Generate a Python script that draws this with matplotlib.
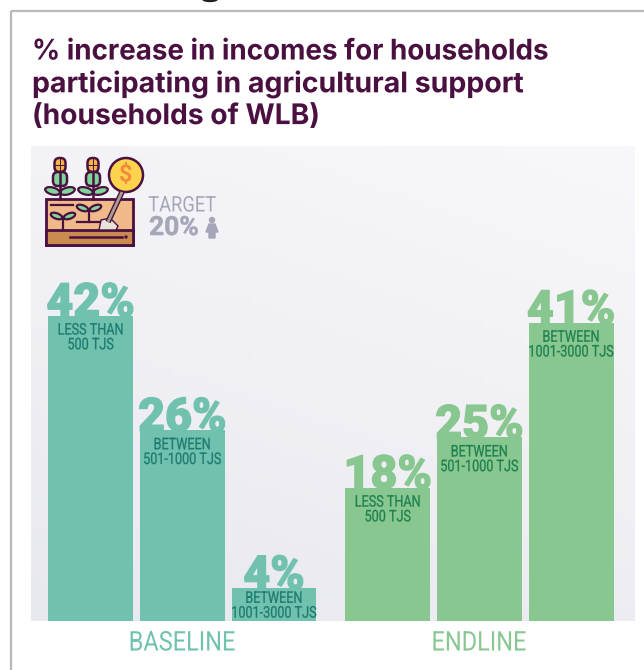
import numpy as np
import matplotlib
matplotlib.use('Agg')
import matplotlib.pyplot as plt
from matplotlib.colors import LinearSegmentedColormap
from matplotlib.patches import Rectangle, Circle, Ellipse, Polygon, FancyBboxPatch
from matplotlib.patheffects import AbstractPathEffect
from matplotlib.transforms import Affine2D

W, H = 644, 670

groups = ['BASELINE', 'ENDLINE']
baseline_values = [42, 26, 4]
endline_values = [18, 25, 41]
baseline_labels = ['LESS THAN\n500 TJS', 'BETWEEN\n501-1000 TJS', 'BETWEEN\n1001-3000 TJS']
endline_labels = ['LESS THAN\n500 TJS', 'BETWEEN\n501-1000 TJS', 'BETWEEN\n1001-3000 TJS']

title_lines = ['% increase in incomes for households',
               'participating in agricultural support',
               '(households of WLB)']
title_squeeze = [0.975, 1.0, 0.99]

PLUM = '#4a1040'
TEAL = '#70c2ae'
TEAL_DARK = '#1f7a70'
GREEN = '#88c78f'
GREEN_DARK = '#1f8050'
GREY = '#a5a6b8'

plt.rcParams['font.family'] = ['Inter', 'Roboto', 'DejaVu Sans']
ROBOTO = ['Roboto', 'DejaVu Sans']


class Squeeze(AbstractPathEffect):
    # scales glyphs horizontally around a fixed pixel x, there is no condensed font here
    def __init__(self, sx, cx, stroke=0.0):
        super().__init__()
        self.sx, self.cx, self.stroke = sx, cx, stroke

    def draw_path(self, renderer, gc, tpath, affine, rgbFace=None):
        squeezed = affine + Affine2D().translate(-self.cx, 0).scale(self.sx, 1).translate(self.cx, 0)
        gc0 = renderer.new_gc()
        gc0.copy_properties(gc)
        if self.stroke:
            gc0.set_linewidth(self.stroke)
            gc0.set_foreground(rgbFace)
        renderer.draw_path(gc0, tpath, squeezed, rgbFace)
        gc0.restore()


fig = plt.figure(figsize=(W / 100, H / 100), dpi=100, facecolor='white')

# chart panel with a soft diagonal gradient
ax = fig.add_axes([31 / W, 1 - 621 / H, 604 / W, 475 / H])
xlim = (0, 604 / 91.7)
ylim = (-0.6, 475 / 7.17 - 0.6)
gx, gy = np.meshgrid(np.linspace(0, 1, 60), np.linspace(0, 1, 60))
ax.imshow(gx * 0.3 + gy * 0.7, extent=[*xlim, *ylim], origin='lower', aspect='auto',
          cmap=LinearSegmentedColormap.from_list('bg', ['#e8e8ef', '#f8f8fb']), zorder=0)
ax.set_xlim(xlim)
ax.set_ylim(ylim)
ax.axis('off')

base_x = np.array([0.65, 1.65, 2.65])
end_x = np.array([3.89, 4.89, 5.89])


def draw_group(xs, values, labels, color, dark):
    ax.bar(xs, np.array(values) + 0.6, bottom=-0.6, width=0.925, color=color, zorder=2)
    for x, v, lab in zip(xs, values, labels):
        cx = ax.transData.transform((x, 0))[0]
        ax.text(x, v - 0.1, f'{v}%', color=color, fontsize=33.5, fontweight='black', family=ROBOTO,
                ha='center', va='baseline', zorder=3, path_effects=[Squeeze(1.0, cx, stroke=0.9)])
        # the shortest bar has little room, so its label sits closer to the top edge
        pad = 2 if v < 10 else 5
        ax.annotate(lab, (x, v), xytext=(0, -pad), textcoords='offset points', color=dark,
                    fontsize=11.5, family=ROBOTO, ha='center', va='top', linespacing=0.98,
                    zorder=4, path_effects=[Squeeze(0.79, cx, stroke=0.2)])


draw_group(base_x, baseline_values, baseline_labels, TEAL, TEAL_DARK)
draw_group(end_x, endline_values, endline_labels, GREEN, GREEN_DARK)

# whole-figure layer in pixel coordinates for the frame, title and icon
page = fig.add_axes([0, 0, 1, 1], zorder=3)
page.set_xlim(0, W)
page.set_ylim(H, 0)
page.axis('off')

page.add_patch(Rectangle((11, 11), W, H, fill=False, ec='#b9b9b9', lw=1.6))
page.add_patch(Ellipse((210, -1), 15, 5, color='#222222'))
for i, line in enumerate(title_lines):
    page.text(32, 52 + i * 32.3, line, color=PLUM, fontsize=20.5, fontweight='bold', va='center',
              path_effects=[Squeeze(title_squeeze[i], 32)])

page.text(182, 643, groups[0], color=TEAL, fontsize=19.5, family=ROBOTO, ha='center', va='center',
          path_effects=[Squeeze(0.87, 182)])
page.text(479, 643, groups[1], color=GREEN, fontsize=19.5, family=ROBOTO, ha='center', va='center',
          path_effects=[Squeeze(0.87, 479)])

# target note next to the icon
page.text(182, 206, 'TARGET', color=GREY, fontsize=15.5, family=ROBOTO, ha='center', va='center',
          path_effects=[Squeeze(0.85, 182)])
page.text(149, 228, '20%', color=GREY, fontsize=19, fontweight='bold', family=ROBOTO, ha='left', va='center',
          path_effects=[Squeeze(1.0, 149, stroke=0.4)])
page.add_patch(Circle((212, 220), 2.5, color=GREY))
page.add_patch(Polygon([(209, 224), (215, 224), (218, 232), (215, 232), (215, 238), (209, 238), (209, 232), (206, 232)],
                       color=GREY))


def leaf(cx, cy, w, h, angle):
    page.add_patch(Ellipse((cx, cy), w, h, angle=angle, fc='#7fd69a', ec=PLUM, lw=1.6))


def plant(cx):
    page.plot([cx, cx], [172, 199], color=PLUM, lw=1.8)
    page.add_patch(FancyBboxPatch((cx - 3.5, 160), 7, 10, boxstyle='round,pad=2,rounding_size=5',
                                  fc='#f2b54a', ec=PLUM, lw=1.8))
    page.plot([cx, cx], [159, 171], color=PLUM, lw=0.7)
    page.plot([cx - 5, cx + 5], [165, 165], color=PLUM, lw=0.7)
    page.add_patch(FancyBboxPatch((cx - 5, 174), 10, 10, boxstyle='round,pad=2,rounding_size=5',
                                  fc='#7fd69a', ec=PLUM, lw=1.8))
    leaf(cx - 7.5, 191, 15, 7, 15)
    leaf(cx + 7.5, 191, 15, 7, -15)


def sprout(cx, top, bottom):
    page.plot([cx, cx], [top, bottom], color=PLUM, lw=1.6)
    leaf(cx - 6.5, top - 1, 12, 5.5, 20)
    leaf(cx + 6.5, top - 1, 12, 5.5, -20)


# garden bed, plants, shovel and coin
page.add_patch(Rectangle((46, 199), 87, 46, fc='#efb98a', ec=PLUM, lw=2))
page.add_patch(Rectangle((46, 230), 87, 15, fc='#c98b4f', ec=PLUM, lw=2))
page.plot([70, 122], [237, 237], color=PLUM, lw=1.8)
page.add_patch(Circle((126, 237), 1, color=PLUM))
page.plot([51, 73], [205, 205], color=PLUM, lw=1.6)
page.plot([77, 100], [222, 222], color=PLUM, lw=1.6)
plant(60)
plant(93)
sprout(63, 217, 230)
sprout(89, 209, 222)
page.plot([122, 108], [192, 222], color=PLUM, lw=4, solid_capstyle='butt')
page.plot([122, 108], [192, 222], color='#a89f8e', lw=2, solid_capstyle='butt')
page.add_patch(Polygon([(101, 220), (110, 218), (118, 226), (116, 230), (99, 230)], fc='#e8e4da', ec=PLUM, lw=1))
page.add_patch(Circle((126, 175), 17, fc='#fcd34d', ec=PLUM, lw=1.8))
page.text(126, 175, '$', color='#f58a3c', fontsize=17, fontweight='bold', family=ROBOTO, ha='center', va='center')

fig.savefig('out.png', dpi=100)
